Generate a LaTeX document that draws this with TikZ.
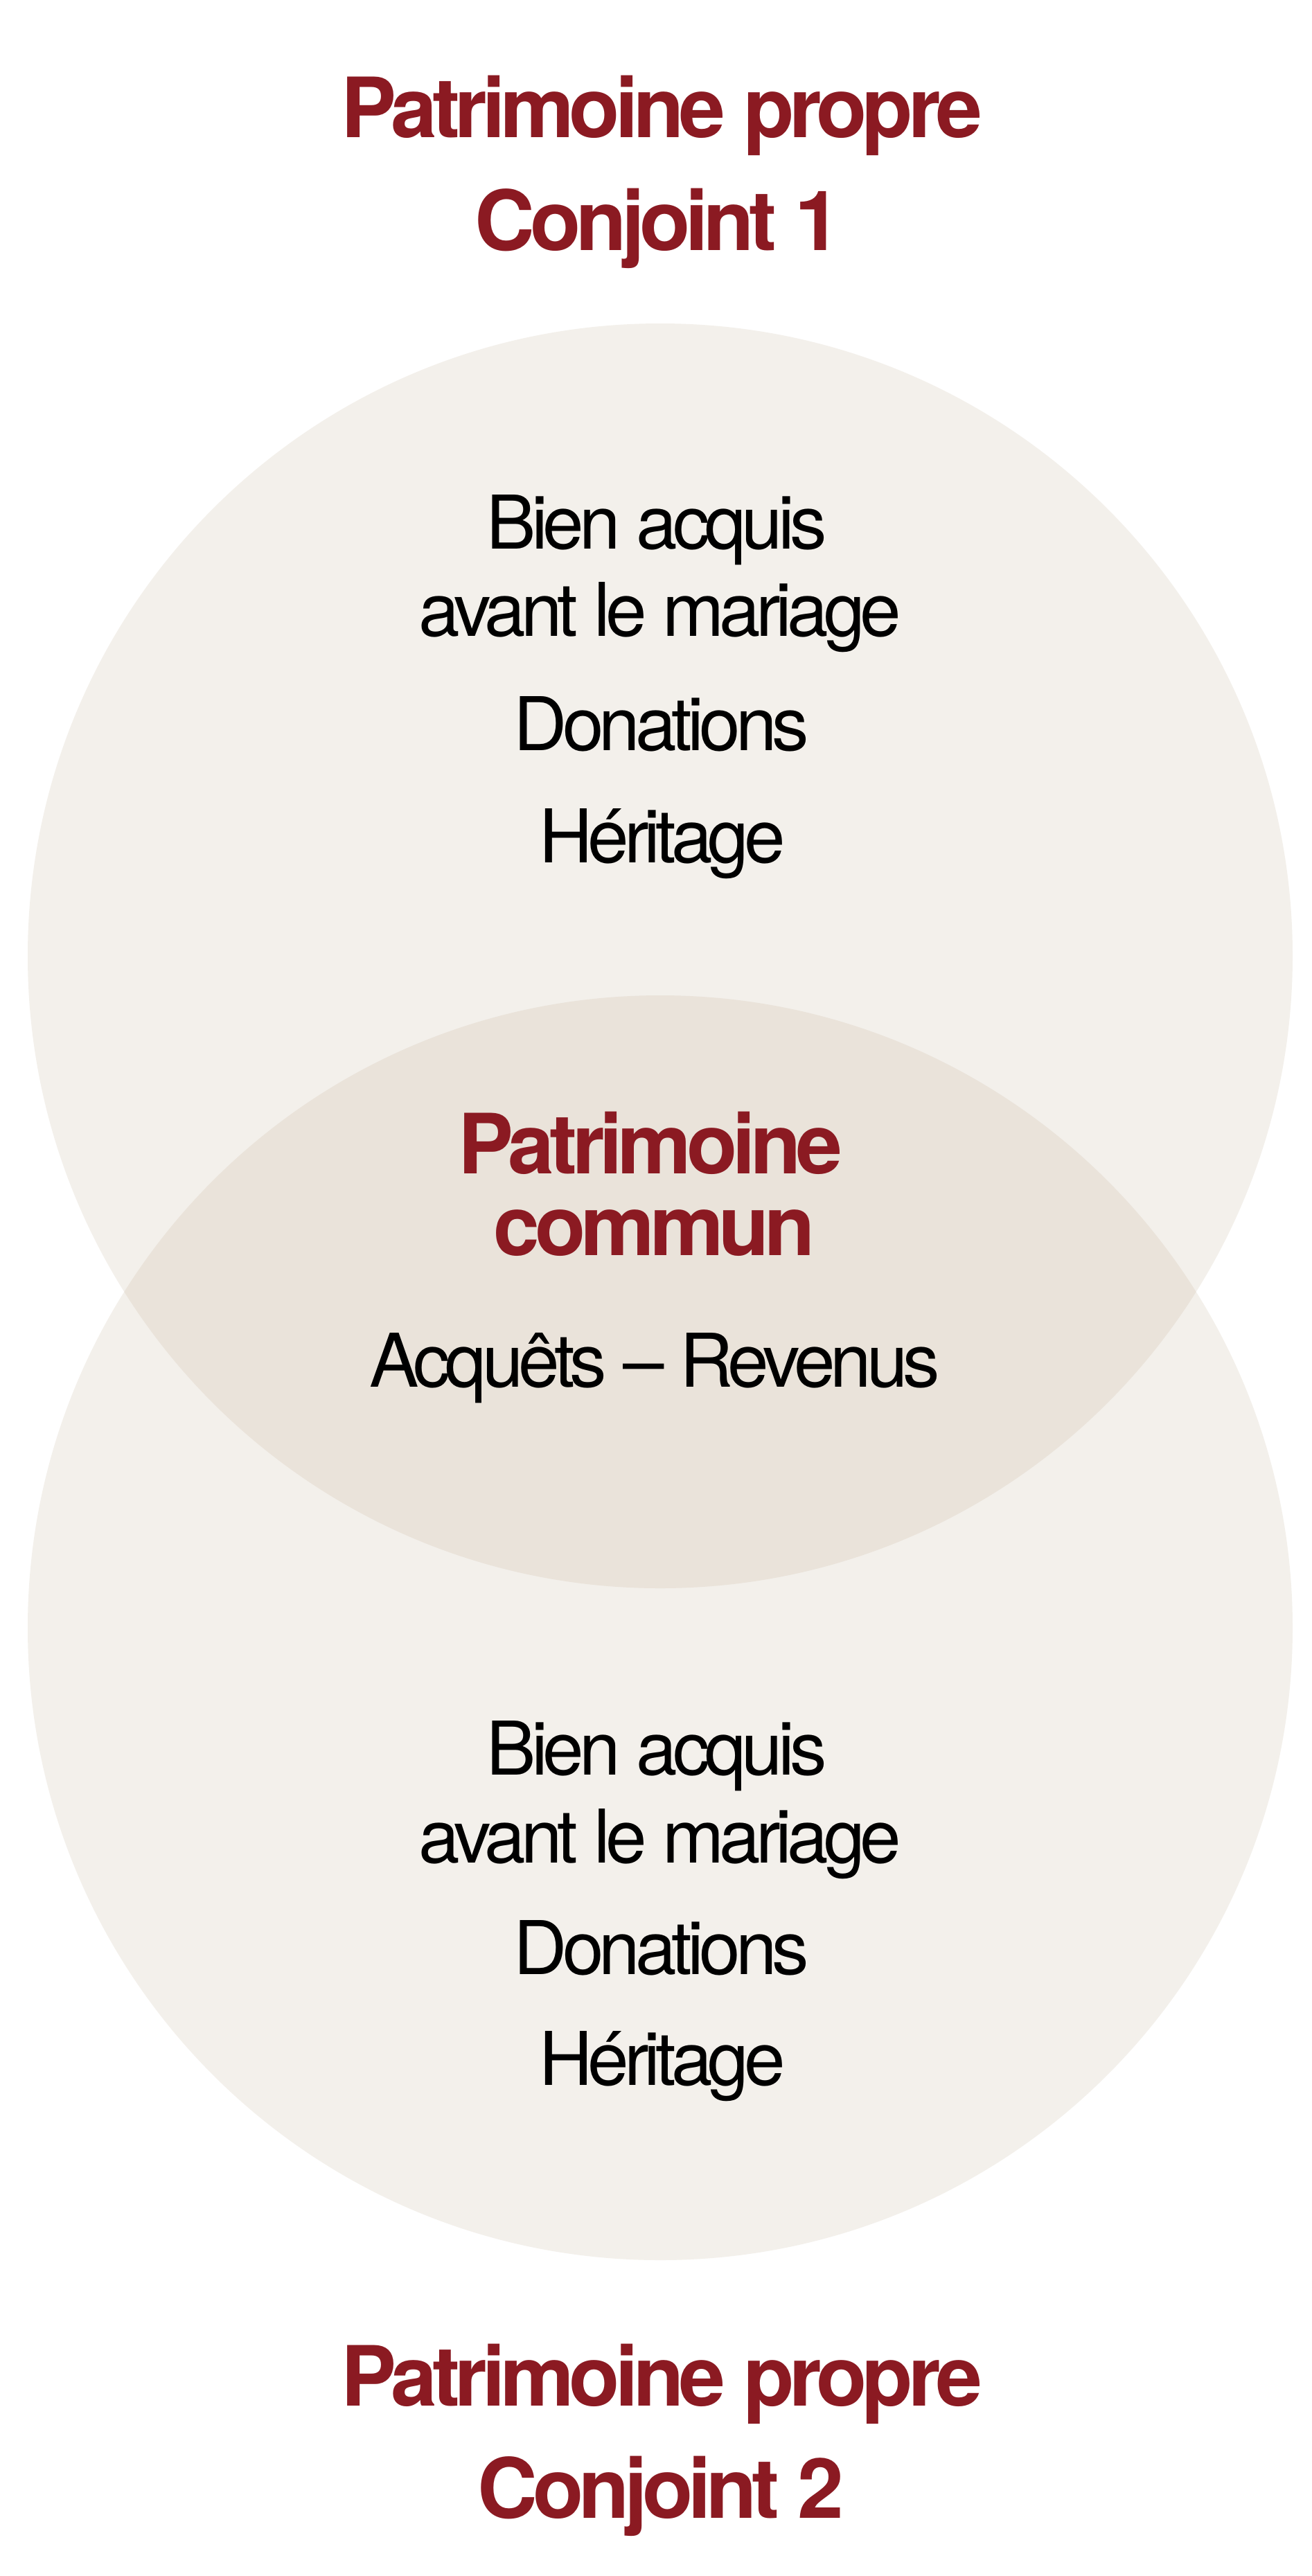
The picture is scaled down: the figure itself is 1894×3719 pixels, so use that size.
\documentclass[tikz,border=0pt]{standalone}
\usepackage{fontspec}
\newfontfamily\heros{TeX Gyre Heros}[LetterSpace=-6.5]
\newfontfamily\herosbold{TeX Gyre Heros Bold}[LetterSpace=-6]
\definecolor{lightfill}{HTML}{F3F0EB}
\definecolor{darkfill}{HTML}{EAE3DA}
\definecolor{wine}{HTML}{8B1A22}
\tikzset{
  title/.style={anchor=base, inner sep=0pt, text=wine, font=\herosbold\fontsize{120}{120}\selectfont},
  item/.style={anchor=base, inner sep=0pt, text=black, font=\heros\fontsize{107}{107}\selectfont},
  disc/.style={circle, fill=lightfill, inner sep=0pt, minimum size=1826pt, draw=none}
}
\begin{document}
\begin{tikzpicture}[x=1pt,y=-1pt]
\useasboundingbox (0,0) rectangle (1894,3719);
\fill[white] (0,0) rectangle (1894,3719);
% circles
\node[disc] (c1) at (953,1380) {};
\node[disc] (c2) at (953,2350) {};
\begin{scope}
  \clip (953,1380) circle[radius=913pt];
  \fill[darkfill] (953,2350) circle[radius=913pt];
\end{scope}
% top title
\node[title] (t1a) at (955,198) {Patrimoine propre};
\node[title] (t1b) at (950,361) {Conjoint 1};
% top circle items
\node[item] (a1) at (948,792) {Bien acquis};
\node[item] (a2) at (953,918) {avant le mariage};
\node[item] (a3) at (955,1083) {Donations};
\node[item] (a4) at (956,1245) {Héritage};
% common
\node[title] (m1) at (939,1694) {Patrimoine};
\node[title] (m2) at (945,1812) {commun};
\node[item] (m3) at (945,2002) {Acquêts – Revenus};
% bottom circle items
\node[item] (b1) at (948,2562) {Bien acquis};
\node[item] (b2) at (953,2689) {avant le mariage};
\node[item] (b3) at (955,2850) {Donations};
\node[item] (b4) at (956,3010) {Héritage};
% bottom title
\node[title] (t2a) at (955,3473) {Patrimoine propre};
\node[title] (t2b) at (954,3635) {Conjoint 2};
\end{tikzpicture}
\end{document}
